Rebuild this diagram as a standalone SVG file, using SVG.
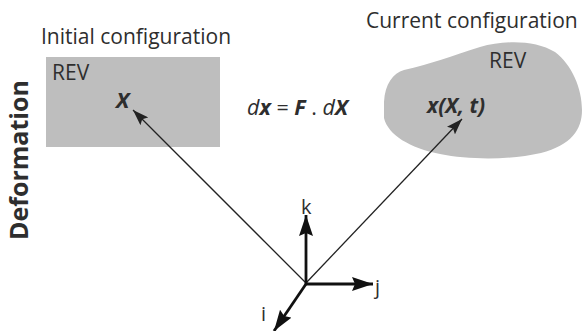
<svg xmlns="http://www.w3.org/2000/svg" width="582" height="331" viewBox="0 0 582 331">
<style>
.t{font-family:"Open Sans","Noto Sans",sans-serif;fill:#2e2e2e}
.lbl{font-size:21px}
.bi{font-weight:bold;font-style:italic}
.ax{font-size:20px}
.thin{stroke:#222;stroke-width:1.3;fill:none}
.axis{stroke:#111;stroke-width:2.8;fill:none}
.shape{fill:#bebebe}
</style>
<defs>
<marker id="ah" markerUnits="userSpaceOnUse" markerWidth="17" markerHeight="11" refX="16" refY="5.5" orient="auto">
<path d="M0,0 L16,5.5 L0,11 L3,5.5 Z" fill="#222"/>
</marker>
<marker id="ax" markerUnits="userSpaceOnUse" markerWidth="22" markerHeight="14" refX="21" refY="7" orient="auto">
<path d="M0,0 L21,7 L0,14 L3,7 Z" fill="#111"/>
</marker>
</defs>
<rect width="582" height="331" fill="#ffffff"/>
<g id="deformation-label">
<text class="t" transform="translate(28,240) rotate(-90)" font-size="25" font-weight="bold" fill="#111">Deformation</text>
</g>
<g id="initial">
<text class="t lbl" x="41" y="44">Initial configuration</text>
<rect class="shape" x="46" y="57" width="174" height="90"/>
<text class="t" x="52" y="80" font-size="21">REV</text>
<text class="t bi" x="116" y="108" font-size="22">X</text>
</g>
<g id="current">
<text class="t lbl" x="366" y="28">Current configuration</text>
<path class="shape" d="M384,102 C385,84 393,73 404,70 C430,64 452,56 480,47 C505,40 535,40 555,52 C572,65 582,88 582,110 C582,130 571,145 541,153 C510,160 470,160 440,154 C410,148 388,135 384,118 Z"/>
<text class="t" x="489" y="68" font-size="21">REV</text>
<text class="t bi" x="427" y="113" font-size="21">x(X, t)</text>
</g>
<g id="equation">
<text class="t" x="247" y="115" font-size="21.5"><tspan font-style="italic">d</tspan><tspan class="bi">x</tspan> = <tspan class="bi">F</tspan> . <tspan font-style="italic">d</tspan><tspan class="bi">X</tspan></text>
</g>
<g id="connectors">
<line class="thin" x1="306" y1="283" x2="133" y2="110" marker-end="url(#ah)"/>
<line class="thin" x1="306" y1="283" x2="462" y2="119" marker-end="url(#ah)"/>
<line class="axis" x1="306" y1="285" x2="306" y2="215" marker-end="url(#ax)"/>
<line class="axis" x1="305" y1="284" x2="373" y2="284" marker-end="url(#ax)"/>
<line class="axis" x1="306" y1="284" x2="274" y2="331" marker-end="url(#ax)"/>
</g>
<g id="axis-labels">
<text class="t ax" x="301" y="214">k</text>
<text class="t ax" x="375" y="294">j</text>
<text class="t ax" x="261" y="321">i</text>
</g>
</svg>
